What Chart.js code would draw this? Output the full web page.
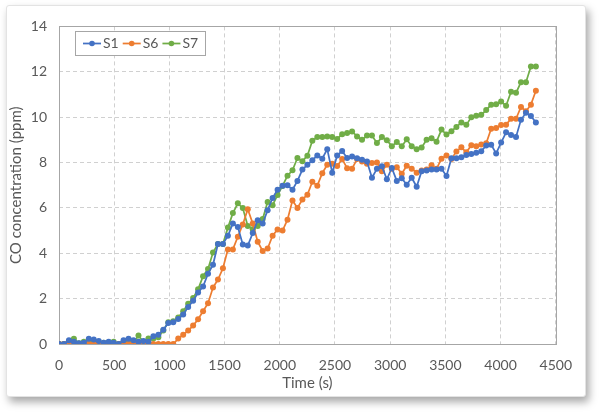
<!DOCTYPE html>
<html>
<head>
<meta charset="utf-8">
<script src="https://cdn.jsdelivr.net/npm/chart.js@4.4.1/dist/chart.umd.min.js"></script>
<style>
  html, body { margin: 0; padding: 0; background: #fff; }
  body { width: 600px; height: 414px; position: relative; overflow: hidden; }
  .card {
    position: absolute; left: 6px; top: 5px; width: 580px; height: 392px;
    background: #fff; border: 1px solid #e3e3e3; border-radius: 3px;
    box-shadow: 3px 5px 8px rgba(0, 0, 0, 0.35); box-sizing: border-box;
  }
  .card canvas { position: absolute; left: 0; top: 0; }
</style>
</head>
<body>
<div class="card"><canvas id="myChart" width="578" height="390"></canvas></div>
<script>
// sample times (s)
const times = [0,45,90,135,180,225,270,315,360,405,450,495,540,585,630,675,720,765,810,855,
  900,945,990,1035,1080,1125,1170,1215,1260,1305,1350,1395,1440,1485,1530,1575,1620,1665,1710,1755,
  1800,1845,1890,1935,1980,2025,2070,2115,2160,2205,2250,2295,2340,2385,2430,2475,2520,2565,2610,2655,
  2700,2745,2790,2835,2880,2925,2970,3015,3060,3105,3150,3195,3240,3285,3330,3375,3420,3465,3510,3555,
  3600,3645,3690,3735,3780,3825,3870,3915,3960,4005,4050,4095,4140,4185,4230,4275,4320];

const s1 = [0,0,0.17,0.1,0.03,0.05,0.23,0.2,0.13,0.05,0.1,0.05,0,0.17,0.23,0.16,0.1,0.13,0.1,0.34,
  0.41,0.63,0.93,0.96,1.1,1.3,1.63,1.91,2.27,2.53,3.1,3.49,4.41,4.41,4.77,5.31,5.16,4.39,4.34,4.89,
  5.46,5.31,5.9,6.44,6.8,6.98,7.0,6.8,7.19,7.69,7.9,8.1,8.31,8.17,8.59,7.55,8.31,8.51,8.2,8.26,
  8.19,8.12,8.05,7.33,7.72,7.83,7.26,7.76,7.19,7.31,7.02,7.33,6.93,7.62,7.65,7.69,7.69,7.73,7.41,8.19,
  8.19,8.23,8.33,8.38,8.43,8.5,8.75,8.78,8.4,8.88,9.33,9.21,9.13,9.88,10.19,10.05,9.76];

const s6 = [0,0,0,0,0,0,0,0,0,0,0,0,0,0,0,0,0,0,0,0,
  0,0,0,0,0.24,0.41,0.59,0.81,1.09,1.44,1.8,2.49,2.84,3.34,4.17,4.17,4.73,5.27,5.94,5.31,
  4.51,4.1,4.21,4.77,5.05,5.0,5.48,6.33,6.0,6.37,6.58,7.15,6.98,7.53,7.9,7.95,7.85,8.15,7.75,7.73,
  8.15,8.05,7.95,7.98,8.0,7.62,7.9,7.72,7.79,7.51,7.86,7.73,7.55,7.65,7.69,7.88,7.72,8.17,8.31,8.15,
  8.49,8.67,8.45,8.76,8.72,8.79,8.85,9.49,9.52,9.65,9.67,9.93,9.93,10.45,10.26,10.55,11.16];

const s7 = [0,0,0.1,0.23,0.03,0.1,0.1,0.05,0.05,0.05,0.07,0.1,0,0.05,0.05,0.05,0.37,0.1,0.24,0.24,
  0.3,0.6,0.96,1.0,1.17,1.44,1.77,2.03,2.41,2.99,3.31,4.03,4.41,4.41,5.13,5.77,6.2,5.99,5.2,5.06,
  5.2,5.51,6.26,6.12,6.57,6.97,7.42,7.66,8.2,8.06,8.3,8.96,9.12,9.12,9.15,9.12,9.04,9.25,9.3,9.37,
  9.15,9.0,9.19,9.19,8.86,9.12,8.98,8.72,8.9,8.72,9.02,8.72,8.59,8.66,9.0,9.07,8.92,9.45,9.23,9.38,
  9.57,9.76,9.66,10.0,10.06,10.1,10.31,10.55,10.57,10.69,10.5,11.12,11.07,11.54,11.54,12.23,12.23];

const seriesNames = ["S1", "S6", "S7"];
const seriesColors = ["#4472C4", "#ED7D31", "#70AD47"];
const xTicks = { min: 0, max: 4500, step: 500 };
const yTicks = { min: 0, max: 14, step: 2 };

const textColor = "#595959";
const fontFamily = "Lato, 'Open Sans', sans-serif";

function toPoints(values) {
  return values.map((v, i) => ({ x: times[i], y: v }));
}

// solid frame around the plot area
const frame = {
  id: "frame",
  beforeDatasetsDraw(chart) {
    const { ctx, chartArea: a } = chart;
    ctx.save();
    ctx.strokeStyle = "#a6a6a6";
    ctx.lineWidth = 1;
    ctx.strokeRect(Math.round(a.left) + 0.5, Math.round(a.top) + 0.5,
      Math.round(a.right - a.left), Math.round(a.bottom - a.top));
    ctx.restore();
  },
};

// boxed legend inside the top-left of the plot
const boxLegend = {
  id: "boxLegend",
  afterDraw(chart) {
    const { ctx } = chart;
    const x0 = 68, y0 = 25, w = 130, h = 24;
    ctx.save();
    ctx.fillStyle = "#fff";
    ctx.fillRect(x0, y0, w, h);
    ctx.strokeStyle = "#a6a6a6";
    ctx.lineWidth = 1;
    ctx.strokeRect(x0 + 0.5, y0 + 0.5, w, h);
    ctx.font = "14px " + fontFamily;
    ctx.textBaseline = "middle";
    let x = x0 + 8;
    const cy = y0 + h / 2 + 0.5;
    chart.data.datasets.forEach((ds) => {
      ctx.strokeStyle = ds.borderColor;
      ctx.lineWidth = 1.75;
      ctx.beginPath();
      ctx.moveTo(x, cy);
      ctx.lineTo(x + 18, cy);
      ctx.stroke();
      ctx.fillStyle = ds.borderColor;
      ctx.beginPath();
      ctx.arc(x + 9, cy, 2.8, 0, Math.PI * 2);
      ctx.fill();
      ctx.fillStyle = textColor;
      ctx.fillText(ds.label, x + 20, cy);
      x += 20 + ctx.measureText(ds.label).width + 4;
    });
    ctx.restore();
  },
};

const ctx = document.getElementById("myChart").getContext("2d");
new Chart(ctx, {
  type: "line",
  data: {
    datasets: [s1, s6, s7].map((vals, k) => ({
      label: seriesNames[k],
      data: toPoints(vals),
      borderColor: seriesColors[k],
      backgroundColor: seriesColors[k],
      borderWidth: 1.75,
      pointRadius: 3,
      pointBorderWidth: 0,
      fill: false,
      tension: 0,
    })),
  },
  options: {
    responsive: false,
    animation: false,
    layout: { padding: { left: 0, right: 18, top: 11, bottom: 4 } },
    plugins: {
      legend: { display: false },
      tooltip: { enabled: false },
    },
    scales: {
      x: {
        type: "linear",
        min: xTicks.min,
        max: xTicks.max,
        ticks: {
          stepSize: xTicks.step,
          color: textColor,
          font: { family: fontFamily, size: 14 },
          padding: 13,
          maxRotation: 0,
          callback: (v) => String(v),
        },
        grid: { color: "#d0d0d0", drawTicks: false },
        border: { display: false, dash: [4, 3] },
        title: {
          display: true,
          text: "Time (s)",
          color: textColor,
          font: { family: fontFamily, size: 15 },
          padding: { top: 2, bottom: 0 },
        },
        afterFit: (s) => { s.height = 48; },
      },
      y: {
        min: yTicks.min,
        max: yTicks.max,
        ticks: {
          stepSize: yTicks.step,
          color: textColor,
          font: { family: fontFamily, size: 14 },
          padding: 12,
          callback: (v) => String(v),
        },
        grid: { color: "#d0d0d0", drawTicks: false },
        border: { display: false, dash: [4, 3] },
        title: {
          display: true,
          text: "CO concentration (ppm)",
          color: textColor,
          font: { family: fontFamily, size: 15 },
          padding: { top: 0, bottom: 4 },
        },
        afterFit: (s) => { s.width = 52; },
      },
    },
  },
  plugins: [frame, boxLegend],
});
</script>
</body>
</html>
